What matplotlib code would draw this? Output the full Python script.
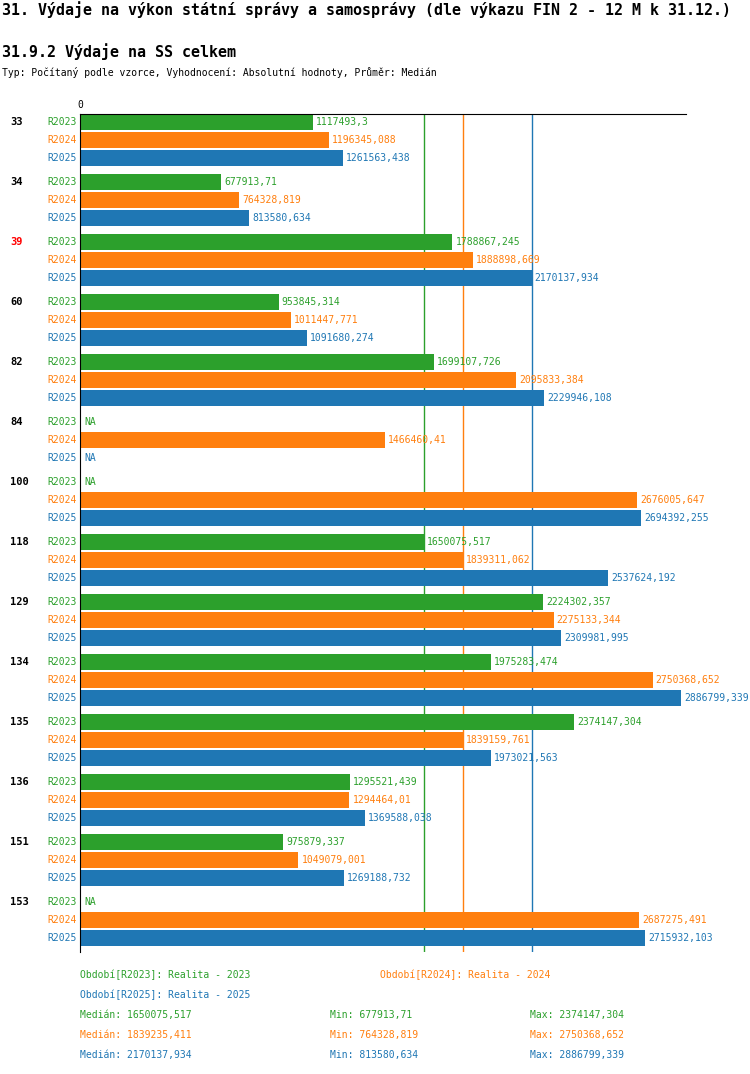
import matplotlib
matplotlib.use("Agg")
import matplotlib.pyplot as plt
import numpy as np

groups = ["33", "34", "39", "60", "82", "84", "100", "118", "129", "134", "135", "136", "151", "153"]
series = ["R2023", "R2024", "R2025"]
colors = ["#2ca02c", "#ff7f0e", "#1f77b4"]
r2023 = [1117493.3, 677913.71, 1788867.245, 953845.314, 1699107.726, None, None, 1650075.517,
         2224302.357, 1975283.474, 2374147.304, 1295521.439, 975879.337, None]
r2024 = [1196345.088, 764328.819, 1888898.669, 1011447.771, 2095833.384, 1466460.41, 2676005.647,
         1839311.062, 2275133.344, 2750368.652, 1839159.761, 1294464.01, 1049079.001, 2687275.491]
r2025 = [1261563.438, 813580.634, 2170137.934, 1091680.274, 2229946.108, None, 2694392.255,
         2537624.192, 2309981.995, 2886799.339, 1973021.563, 1369588.038, 1269188.732, 2715932.103]
medians = [1650075.517, 1839235.411, 2170137.934]
mins = [677913.71, 764328.819, 813580.634]
maxs = [2374147.304, 2750368.652, 2886799.339]
highlight = "39"

W, H = 750, 1074
fig = plt.figure(figsize=(W / 100, H / 100), dpi=100)
plt.rcParams["font.family"] = "DejaVu Sans Mono"

x0, x1, ytop, ybot = 80, 686, 114, 952
ax = fig.add_axes([x0 / W, 1 - ybot / H, (x1 - x0) / W, (ybot - ytop) / H])
px = 2886799.339 / 601.0  # units per pixel
ax.set_xlim(0, (x1 - x0) * px)
ax.set_ylim(ybot, ytop)
for s in ["right", "bottom"]:
    ax.spines[s].set_visible(False)
ax.set_xticks([])
ax.set_yticks([])

def fmt(v):
    s = f"{v:.3f}".rstrip("0").rstrip(".")
    return s.replace(".", ",")

data = [r2023, r2024, r2025]
for g, name in enumerate(groups):
    base = 122 + 60 * g
    ax.text(-70 * px, base, name, ha="left", va="center", fontsize=7.5, fontweight="bold",
            color="red" if name == highlight else "black")
    for k in range(3):
        y = base + 18 * k
        v = data[k][g]
        ax.text(-3 * px, y, series[k], ha="right", va="center", fontsize=7, color=colors[k])
        if v is None:
            ax.text(4 * px, y, "NA", ha="left", va="center", fontsize=7, color=colors[k])
        else:
            ax.barh(y, v, height=15.5, color=colors[k], zorder=2)
            ax.text(v + 3 * px, y, fmt(v), ha="left", va="center", fontsize=7, color=colors[k], zorder=3)

for m, c in zip(medians, colors):
    ax.axvline(m, color=c, lw=1, zorder=1)
ax.text(0, ytop - 4, "0", ha="center", va="bottom", fontsize=7)

fig.text(2 / W, 1 - 10 / H, "31. Výdaje na výkon státní správy a samosprávy (dle výkazu FIN 2 - 12 M k 31.12.)",
         fontsize=10.8, fontweight="bold", va="center")
fig.text(2 / W, 1 - 52 / H, "31.9.2 Výdaje na SS celkem", fontsize=10.8, fontweight="bold", va="center")
fig.text(2 / W, 1 - 73 / H, "Typ: Počítaný podle vzorce, Vyhodnocení: Absolutní hodnoty, Průměr: Medián",
         fontsize=7, va="center")

fig.text(80 / W, 1 - 975 / H, "Období[R2023]: Realita - 2023", fontsize=7, color=colors[0], va="center")
fig.text(380 / W, 1 - 975 / H, "Období[R2024]: Realita - 2024", fontsize=7, color=colors[1], va="center")
fig.text(80 / W, 1 - 995 / H, "Období[R2025]: Realita - 2025", fontsize=7, color=colors[2], va="center")
for k in range(3):
    y = 1 - (1015 + 20 * k) / H
    fig.text(80 / W, y, "Medián: " + fmt(medians[k]), fontsize=7, color=colors[k], va="center")
    fig.text(330 / W, y, "Min: " + fmt(mins[k]), fontsize=7, color=colors[k], va="center")
    fig.text(530 / W, y, "Max: " + fmt(maxs[k]), fontsize=7, color=colors[k], va="center")

fig.savefig("out.png", dpi=100)
